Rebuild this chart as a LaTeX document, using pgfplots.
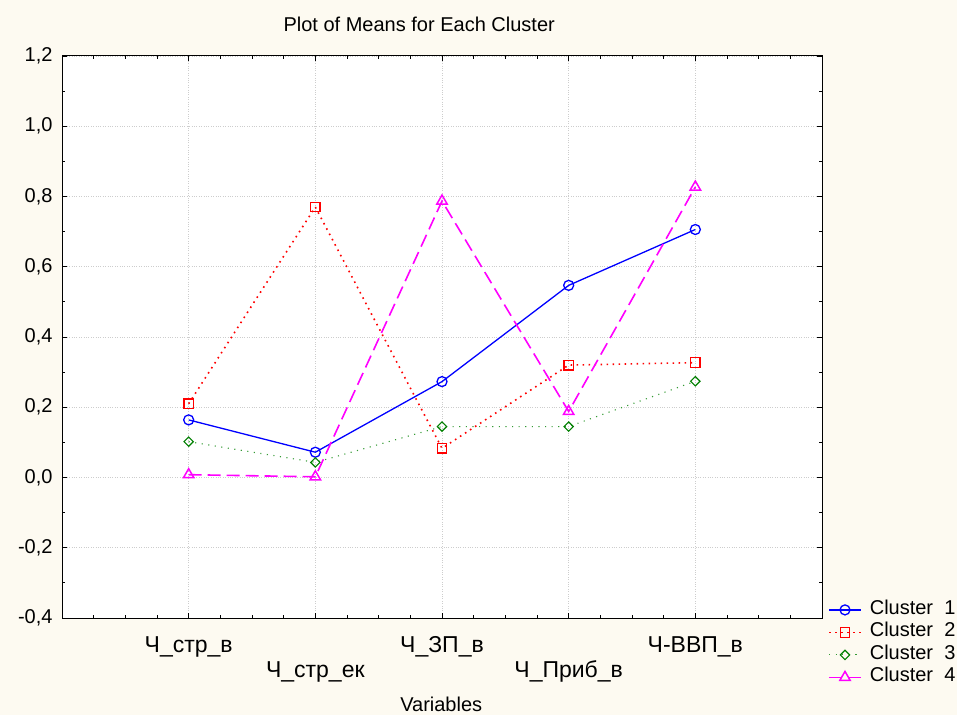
\documentclass[border=0pt]{standalone}
\usepackage{pgfplots}
\pgfplotsset{compat=1.18}
\usepackage{fontspec}
\setmainfont{Liberation Sans}
\definecolor{bgcream}{RGB}{253,250,241}
\definecolor{gridgray}{RGB}{205,205,205}
\definecolor{cgreen}{RGB}{0,128,0}
\definecolor{cmag}{RGB}{255,0,255}
\definecolor{cred}{RGB}{255,0,0}
\definecolor{cblue}{RGB}{0,0,255}
\begin{document}
\begin{tikzpicture}[x=1pt,y=1pt]
\useasboundingbox (0,0) rectangle (957,715);
\fill[bgcream] (0,0) rectangle (957,715);
\begin{axis}[
  at={(62pt,97pt)}, anchor=south west,
  scale only axis, width=760pt, height=562pt,
  axis background/.style={fill=white},
  xmin=-1, xmax=5, ymin=-0.4, ymax=1.2,
  xtick={0,1,2,3,4},
  xticklabels={Ч\_стр\_в, \raisebox{-25pt}{Ч\_стр\_ек}, Ч\_ЗП\_в, \raisebox{-25pt}{Ч\_Приб\_в}, Ч-ВВП\_в},
  minor xtick={-0.75,-0.5,-0.25,0.25,0.5,0.75,1.25,1.5,1.75,2.25,2.5,2.75,3.25,3.5,3.75,4.25,4.5,4.75},
  ytick={-0.4,-0.2,0,0.2,0.4,0.6,0.8,1.0,1.2},
  minor ytick={-0.3,-0.1,0.1,0.3,0.5,0.7,0.9,1.1},
  tick align=inside, major tick length=5pt, minor tick length=3pt,
  xmajorgrids, ymajorgrids,
  major grid style={gridgray, dotted, line width=0.8pt},
  axis line style={line width=1pt},
  every tick/.style={black, line width=0.8pt},
  /pgf/number format/assume math mode=true,
  yticklabel style={/pgf/number format/fixed, /pgf/number format/fixed zerofill, /pgf/number format/precision=1, /pgf/number format/use comma, xshift=-6pt, font=\fontsize{20}{24}\selectfont},
  xticklabel style={anchor=base, yshift=-34pt, font=\fontsize{23}{27}\selectfont},
  title={Plot of Means for Each Cluster},
  title style={at={(axis description cs:0.47,1)}, anchor=base, yshift=18pt, font=\fontsize{20}{24}\selectfont},
  xlabel={Variables},
  xlabel style={at={(axis description cs:0.499,0)}, anchor=base, yshift=-93pt, font=\fontsize{20}{24}\selectfont},
  legend style={at={(rel axis cs:1,0.037)}, anchor=north west, xshift=3pt, draw=none, fill=none,
    font=\fontsize{20}{24}\selectfont, nodes={inner sep=2pt, text height=13pt, text depth=4pt}, row sep=1.5pt},
  legend cell align=left,
  legend image code/.code={\draw[mark repeat=2, mark phase=2, #1] plot coordinates {(0pt,0pt) (16pt,0pt) (32pt,0pt)}; \path (38pt,0pt);},
  clip=false,
]
\addplot[cblue, line width=1.3pt, mark=o, mark size=5pt, mark options={solid, fill=white, line width=1.3pt}]
  coordinates {(0,0.164) (1,0.072) (2,0.273) (3,0.547) (4,0.706)};
\addlegendentry{Cluster\ \ 1}
\addplot[cred, line width=1.6pt, dash pattern=on 1.6pt off 4.4pt, mark=square, mark size=4.8pt, mark options={solid, fill=white, line width=1.3pt}]
  coordinates {(0,0.210) (1,0.770) (2,0.083) (3,0.320) (4,0.327)};
\addlegendentry{Cluster\ \ 2}
\addplot[cgreen!80, line width=1.1pt, dash pattern=on 1.1pt off 5.5pt, mark=square, mark size=3.3pt, mark options={solid, cgreen, fill=white, line width=1.1pt, rotate=45}]
  coordinates {(0,0.102) (1,0.043) (2,0.145) (3,0.145) (4,0.274)};
\addlegendentry{Cluster\ \ 3}
\addplot[cmag, line width=1.6pt, dash pattern=on 13pt off 6pt, mark=triangle, mark size=6pt, mark options={solid, fill=white, line width=1.5pt}]
  coordinates {(0,0.008) (1,0.002) (2,0.787) (3,0.188) (4,0.827)};
\addlegendentry{Cluster\ \ 4}
\end{axis}
\end{tikzpicture}
\end{document}
